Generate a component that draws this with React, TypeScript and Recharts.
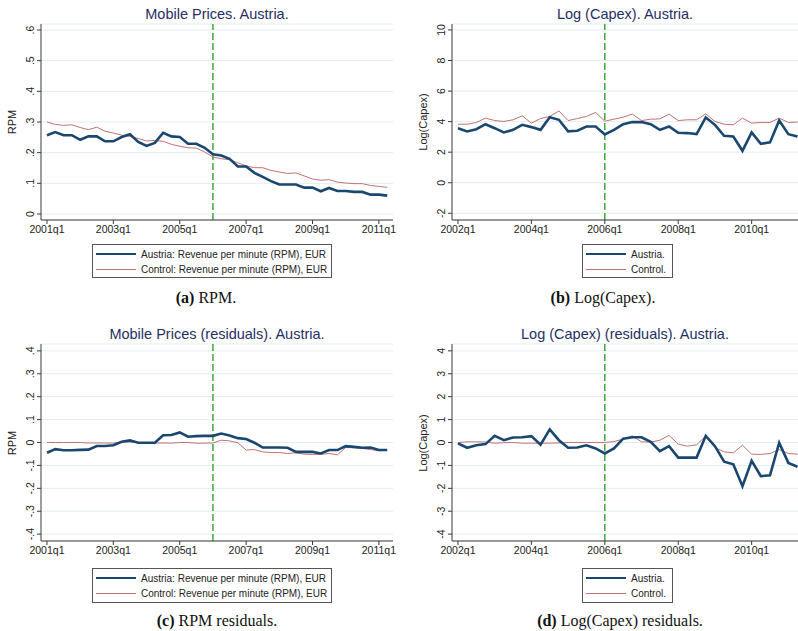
import React from 'react';
import { LineChart, Line, XAxis, YAxis, CartesianGrid, ReferenceLine } from 'recharts';

const SANS = '"Liberation Sans", Arial, sans-serif';
const SERIF = '"Liberation Serif", "Times New Roman", serif';
const NAVY = '#1a476f';
const MAROON = '#c27272';
const TITLE_COLOR = '#1f2f5f';
const AXIS_COLOR = '#3a3a3a';
const GRID_COLOR = '#e3edf0';
const GREEN = '#1f9a1f';

// Revenue per minute, quarterly from 2001q1
const rpmAustria = [
  0.257, 0.267, 0.257, 0.257, 0.242, 0.253, 0.253, 0.237, 0.237, 0.251,
  0.26, 0.235, 0.222, 0.232, 0.265, 0.253, 0.251, 0.229, 0.229, 0.216,
  0.195, 0.191, 0.18, 0.155, 0.155, 0.134, 0.121, 0.107, 0.096, 0.096,
  0.096, 0.086, 0.086, 0.074, 0.085, 0.075, 0.075, 0.072, 0.072, 0.063,
  0.063, 0.06,
];
const rpmControl = [
  0.3, 0.292, 0.289, 0.291, 0.282, 0.275, 0.283, 0.27, 0.264, 0.257,
  0.253, 0.246, 0.238, 0.24, 0.237, 0.227, 0.221, 0.216, 0.215, 0.202,
  0.186, 0.18, 0.177, 0.167, 0.157, 0.151, 0.151, 0.142, 0.137, 0.132,
  0.134, 0.124, 0.114, 0.11, 0.112, 0.104, 0.101, 0.099, 0.099, 0.093,
  0.09, 0.087,
];

// Log capex, quarterly from 2002q1
const capexAustria = [
  3.57, 3.36, 3.5, 3.83, 3.57, 3.29, 3.46, 3.79, 3.64, 3.46,
  4.29, 4.12, 3.36, 3.4, 3.68, 3.68, 3.16, 3.46, 3.83, 3.97,
  3.97, 3.83, 3.46, 3.68, 3.27, 3.25, 3.18, 4.27, 3.79, 3.07,
  3.03, 2.09, 3.29, 2.55, 2.64, 4.07, 3.18, 3.03,
];
const capexControl = [
  3.83, 3.83, 3.94, 4.23, 4.07, 4.01, 4.12, 4.38, 3.9, 4.2,
  4.34, 4.7, 4.07, 4.2, 4.34, 4.6, 4.03, 4.16, 4.29, 4.49,
  4.07, 4.16, 4.18, 4.49, 4.07, 4.12, 4.12, 4.51, 4.01, 3.83,
  3.79, 4.23, 3.9, 3.94, 3.94, 4.23, 3.94, 3.97,
];

// Residuals
const rpmResAustria = [
  -0.045, -0.029, -0.034, -0.034, -0.032, -0.031, -0.015, -0.015, -0.012, 0.003,
  0.009, -0.001, -0.001, -0.001, 0.032, 0.033, 0.044, 0.025, 0.028, 0.029,
  0.029, 0.039, 0.031, 0.019, 0.015, -0.001, -0.022, -0.022, -0.022, -0.023,
  -0.041, -0.041, -0.041, -0.048, -0.033, -0.033, -0.016, -0.019, -0.023, -0.022,
  -0.033, -0.033,
];
const rpmResControl = [
  0, 0, 0, 0, 0, -0.002, -0.002, -0.002, -0.003, 0.002,
  0.002, 0, -0.002, -0.002, -0.002, -0.003, 0, 0, -0.003, -0.003,
  -0.002, 0.01, 0.007, -0.001, -0.033, -0.031, -0.041, -0.044, -0.044, -0.048,
  -0.045, -0.051, -0.052, -0.052, -0.048, -0.054, -0.022, -0.023, -0.026, -0.031,
  -0.036, -0.033,
];
const capexResAustria = [
  -0.04, -0.23, -0.12, -0.07, 0.29, 0.1, 0.22, 0.23, 0.28, -0.1,
  0.57, 0.1, -0.23, -0.22, -0.12, -0.26, -0.48, -0.26, 0.17, 0.23,
  0.23, 0.03, -0.38, -0.16, -0.66, -0.66, -0.66, 0.29, -0.16, -0.84,
  -0.95, -1.91, -0.8, -1.47, -1.43, -0.01, -0.89, -1.06,
];
const capexResControl = [
  0, 0.03, 0.03, 0.02, -0.03, -0.01, 0, -0.03, -0.03, -0.03,
  -0.03, -0.02, 0, 0, 0, 0, 0, 0.04, 0.15, 0.29,
  0.03, 0.02, 0.1, 0.31, -0.07, -0.16, -0.1, 0.28, -0.22, -0.41,
  -0.45, -0.12, -0.51, -0.52, -0.48, -0.31, -0.48, -0.51,
];

const rpmTicks = [0, 0.1, 0.2, 0.3, 0.4, 0.5, 0.6];
const capexTicks = [-2, 0, 2, 4, 6, 8, 10];
const rpmResTicks = [-0.4, -0.3, -0.2, -0.1, 0, 0.1, 0.2, 0.3, 0.4];
const capexResTicks = [-4, -3, -2, -1, 0, 1, 2, 3, 4];
const rpmLegend = ['Austria: Revenue per minute (RPM), EUR', 'Control: Revenue per minute (RPM), EUR'];
const capexLegend = ['Austria.', 'Control.'];

const toRows = (austria: number[], control: number[]) =>
  austria.map((a, i) => ({ t: i, austria: a, control: control[i] }));

// Stata-style decimals: .3, -.2, 0
const fmtDecimal = (v: number) => {
  if (Math.abs(v) < 1e-9) return '0';
  const s = Math.abs(v).toFixed(1).replace(/^0/, '');
  return (v < 0 ? '-' : '') + s;
};
const fmtInt = (v: number) => String(Math.round(v));

const RotatedTick = (props: any) => {
  const { x, y, payload, fmt } = props;
  const bx = x - 3;
  return (
    <text
      x={bx}
      y={y}
      transform={`rotate(-90 ${bx} ${y})`}
      textAnchor="middle"
      fontSize={10.5}
      fontFamily={SANS}
      fill="#222"
    >
      {fmt(payload.value)}
    </text>
  );
};

interface PanelProps {
  left: number;
  top: number;
  plotWidth: number;
  plotHeight: number;
  rightPad: number;
  data: { t: number; austria: number; control: number }[];
  xDomain: [number, number];
  startYear: number;
  treat: number;
  yDomain: [number, number];
  yTicks: number[];
  yFmt: (v: number) => string;
  title: string;
  yLabel: string;
}

const Y_AXIS_W = 41;
const TOP_PAD = 24;

function Panel(p: PanelProps) {
  const xTicks: number[] = [];
  for (let t = 0; t <= p.xDomain[1]; t += 8) xTicks.push(t);
  const plotLeft = p.left + Y_AXIS_W;
  const plotCenterX = plotLeft + p.plotWidth / 2;
  return (
    <>
      <div
        style={{
          position: 'absolute',
          left: plotCenterX,
          top: p.top + 14,
          transform: 'translate(-50%, -50%)',
          whiteSpace: 'nowrap',
          fontFamily: SANS,
          fontSize: 14.5,
          color: TITLE_COLOR,
        }}
      >
        {p.title}
      </div>
      <div
        style={{
          position: 'absolute',
          left: p.left + 12,
          top: p.top + TOP_PAD + p.plotHeight / 2,
          transform: 'translate(-50%, -50%) rotate(-90deg)',
          whiteSpace: 'nowrap',
          fontFamily: SANS,
          fontSize: 11,
          color: '#222',
        }}
      >
        {p.yLabel}
      </div>
      <div style={{ position: 'absolute', left: p.left, top: p.top }}>
        <LineChart
          width={Y_AXIS_W + p.plotWidth + p.rightPad}
          height={TOP_PAD + p.plotHeight + 30}
          data={p.data}
          margin={{ top: TOP_PAD, right: p.rightPad, bottom: 0, left: 0 }}
        >
          <CartesianGrid vertical={false} stroke={GRID_COLOR} strokeWidth={1} />
          <XAxis
            type="number"
            dataKey="t"
            domain={p.xDomain}
            allowDataOverflow
            ticks={xTicks}
            interval={0}
            tickFormatter={(t: number) => `${p.startYear + t / 4}q1`}
            tickSize={4}
            tickMargin={2}
            height={30}
            stroke={AXIS_COLOR}
            tick={{ fontSize: 10.5, fontFamily: SANS, fill: '#222' }}
          />
          <YAxis
            type="number"
            domain={p.yDomain}
            allowDataOverflow
            ticks={p.yTicks}
            interval={0}
            width={Y_AXIS_W}
            tickSize={4}
            tickMargin={0}
            stroke={AXIS_COLOR}
            tick={<RotatedTick fmt={p.yFmt} />}
          />
          <ReferenceLine x={p.treat} stroke={GREEN} strokeWidth={1.3} strokeDasharray="7 3" />
          <Line
            type="linear"
            dataKey="control"
            stroke={MAROON}
            strokeWidth={1}
            dot={false}
            isAnimationActive={false}
          />
          <Line
            type="linear"
            dataKey="austria"
            stroke={NAVY}
            strokeWidth={2.6}
            dot={false}
            isAnimationActive={false}
          />
        </LineChart>
      </div>
    </>
  );
}

function LegendBox({ left, top, width, height, labels }: { left: number; top: number; width: number; height: number; labels: string[] }) {
  const rows = [
    { color: NAVY, w: 2.6 },
    { color: MAROON, w: 1 },
  ];
  return (
    <div
      style={{
        position: 'absolute',
        left,
        top,
        width,
        height,
        boxSizing: 'border-box',
        border: '1px solid #555',
        background: '#fff',
        fontFamily: SANS,
        fontSize: 10,
        color: '#222',
      }}
    >
      {labels.map((label, i) => (
        <div
          key={label}
          style={{ position: 'absolute', left: 3, top: 2 + i * 15, height: 14, display: 'flex', alignItems: 'center', whiteSpace: 'nowrap' }}
        >
          <div style={{ width: 40, height: rows[i].w, background: rows[i].color, marginRight: 5 }} />
          <span>{label}</span>
        </div>
      ))}
    </div>
  );
}

function Caption({ cx, cy, tag, text }: { cx: number; cy: number; tag: string; text: string }) {
  return (
    <div
      style={{
        position: 'absolute',
        left: cx,
        top: cy,
        transform: 'translate(-50%, -50%)',
        whiteSpace: 'nowrap',
        fontFamily: SERIF,
        fontSize: 16,
        color: '#111',
      }}
    >
      <b>{tag}</b> {text}
    </div>
  );
}

export default function App() {
  return (
    <div style={{ position: 'absolute', left: 0, top: 0, width: 798, height: 631, background: '#fff', overflow: 'hidden' }}>
      <Panel
        left={0}
        top={0}
        plotWidth={352}
        plotHeight={196}
        rightPad={8}
        data={toRows(rpmAustria, rpmControl)}
        xDomain={[-0.72, 41.7]}
        startYear={2001}
        treat={20}
        yDomain={[-0.0196, 0.6196]}
        yTicks={rpmTicks}
        yFmt={fmtDecimal}
        title="Mobile Prices. Austria."
        yLabel="RPM"
      />
      <Panel
        left={411}
        top={0}
        plotWidth={346}
        plotHeight={196}
        rightPad={0}
        data={toRows(capexAustria, capexControl)}
        xDomain={[-0.65, 37.05]}
        startYear={2002}
        treat={16}
        yDomain={[-2.44, 10.39]}
        yTicks={capexTicks}
        yFmt={fmtInt}
        title="Log (Capex). Austria."
        yLabel="Log(Capex)"
      />
      <Panel
        left={0}
        top={320}
        plotWidth={352}
        plotHeight={197}
        rightPad={8}
        data={toRows(rpmResAustria, rpmResControl)}
        xDomain={[-0.72, 41.7]}
        startYear={2001}
        treat={20}
        yDomain={[-0.43, 0.43]}
        yTicks={rpmResTicks}
        yFmt={fmtDecimal}
        title="Mobile Prices (residuals). Austria."
        yLabel="RPM"
      />
      <Panel
        left={411}
        top={320}
        plotWidth={346}
        plotHeight={197}
        rightPad={0}
        data={toRows(capexResAustria, capexResControl)}
        xDomain={[-0.65, 37.05]}
        startYear={2002}
        treat={16}
        yDomain={[-4.3, 4.3]}
        yTicks={capexResTicks}
        yFmt={fmtInt}
        title="Log (Capex) (residuals). Austria."
        yLabel="Log(Capex)"
      />

      <LegendBox left={92} top={244} width={240} height={34} labels={rpmLegend} />
      <LegendBox left={582} top={244} width={91} height={34} labels={capexLegend} />
      <LegendBox left={92} top={568} width={240} height={35} labels={rpmLegend} />
      <LegendBox left={582} top={568} width={91} height={35} labels={capexLegend} />

      <Caption cx={206} cy={298} tag="(a)" text="RPM." />
      <Caption cx={603} cy={298} tag="(b)" text="Log(Capex)." />
      <Caption cx={217} cy={621} tag="(c)" text="RPM residuals." />
      <Caption cx={620} cy={621} tag="(d)" text="Log(Capex) residuals." />
    </div>
  );
}
